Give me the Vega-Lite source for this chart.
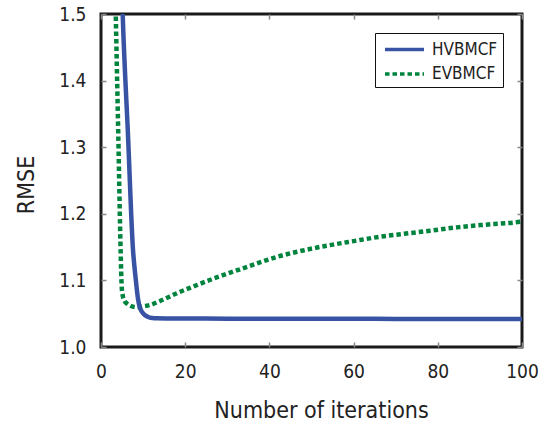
{
  "$schema": "https://vega.github.io/schema/vega-lite/v6.json",
  "width": 421,
  "height": 333,
  "autosize": {"type": "none"},
  "padding": {"left": 101, "top": 14, "right": 20, "bottom": 77},
  "background": "white",
  "config": {
    "view": {"stroke": "#1a1a1a", "strokeWidth": 3},
    "font": "DejaVu Sans Condensed, DejaVu Sans",
    "axis": {
      "labelFont": "DejaVu Sans Condensed, DejaVu Sans",
      "titleFont": "DejaVu Sans Condensed, DejaVu Sans",
      "labelFontSize": 19,
      "titleFontSize": 23,
      "titleFontWeight": "normal",
      "labelColor": "#222",
      "titleColor": "#222",
      "grid": false,
      "domain": false,
      "tickSize": -5,
      "tickColor": "#888",
      "tickWidth": 1.5,
      "labelFlush": false
    },
    "legend": {
      "orient": "none",
      "legendX": 274,
      "legendY": 19,
      "strokeColor": "#111",
      "strokeWidth": 1,
      "fillColor": "white",
      "padding": 5,
      "symbolType": "M-0.7,0L3.5,0",
      "symbolSize": 345,
      "symbolStrokeWidth": 3.5,
      "symbolFillColor": "transparent",
      "labelFont": "DejaVu Sans Condensed, DejaVu Sans",
      "labelFontSize": 17,
      "labelColor": "#222",
      "labelOffset": 29,
      "rowPadding": 4.5
    }
  },
  "data": {
    "values": [
      {"s": "HVBMCF", "x": 5.0, "y": 1.53},
      {"s": "HVBMCF", "x": 5.15, "y": 1.5},
      {"s": "HVBMCF", "x": 6.4, "y": 1.32},
      {"s": "HVBMCF", "x": 7.6, "y": 1.146},
      {"s": "HVBMCF", "x": 8.2, "y": 1.105},
      {"s": "HVBMCF", "x": 8.8, "y": 1.072},
      {"s": "HVBMCF", "x": 9.2, "y": 1.06},
      {"s": "HVBMCF", "x": 9.7, "y": 1.053},
      {"s": "HVBMCF", "x": 10.4, "y": 1.048},
      {"s": "HVBMCF", "x": 11.2, "y": 1.045},
      {"s": "HVBMCF", "x": 12.2, "y": 1.0435},
      {"s": "HVBMCF", "x": 13.3, "y": 1.043},
      {"s": "HVBMCF", "x": 16, "y": 1.0428},
      {"s": "HVBMCF", "x": 20, "y": 1.0427},
      {"s": "HVBMCF", "x": 30, "y": 1.0426},
      {"s": "HVBMCF", "x": 40, "y": 1.0425},
      {"s": "HVBMCF", "x": 50, "y": 1.0424},
      {"s": "HVBMCF", "x": 60, "y": 1.0423},
      {"s": "HVBMCF", "x": 70, "y": 1.0422},
      {"s": "HVBMCF", "x": 80, "y": 1.0421},
      {"s": "HVBMCF", "x": 90, "y": 1.042},
      {"s": "HVBMCF", "x": 100, "y": 1.042},
      {"s": "EVBMCF", "x": 3.4, "y": 1.53},
      {"s": "EVBMCF", "x": 3.5, "y": 1.5},
      {"s": "EVBMCF", "x": 4.1, "y": 1.32},
      {"s": "EVBMCF", "x": 4.68, "y": 1.14},
      {"s": "EVBMCF", "x": 4.92, "y": 1.09},
      {"s": "EVBMCF", "x": 5.2, "y": 1.076},
      {"s": "EVBMCF", "x": 5.6, "y": 1.069},
      {"s": "EVBMCF", "x": 6.1, "y": 1.0656},
      {"s": "EVBMCF", "x": 7.1, "y": 1.0616},
      {"s": "EVBMCF", "x": 8.5, "y": 1.0596},
      {"s": "EVBMCF", "x": 10, "y": 1.061},
      {"s": "EVBMCF", "x": 11.6, "y": 1.063},
      {"s": "EVBMCF", "x": 14, "y": 1.069},
      {"s": "EVBMCF", "x": 18.3, "y": 1.0815},
      {"s": "EVBMCF", "x": 22, "y": 1.091},
      {"s": "EVBMCF", "x": 26, "y": 1.101},
      {"s": "EVBMCF", "x": 30, "y": 1.11},
      {"s": "EVBMCF", "x": 35, "y": 1.121},
      {"s": "EVBMCF", "x": 42.5, "y": 1.1366},
      {"s": "EVBMCF", "x": 48, "y": 1.145},
      {"s": "EVBMCF", "x": 54.4, "y": 1.153},
      {"s": "EVBMCF", "x": 60, "y": 1.159},
      {"s": "EVBMCF", "x": 66.3, "y": 1.1656},
      {"s": "EVBMCF", "x": 72, "y": 1.17},
      {"s": "EVBMCF", "x": 78.1, "y": 1.1746},
      {"s": "EVBMCF", "x": 85, "y": 1.18},
      {"s": "EVBMCF", "x": 92, "y": 1.184},
      {"s": "EVBMCF", "x": 99.5, "y": 1.188},
      {"s": "EVBMCF", "x": 100, "y": 1.1885}
    ]
  },
  "layer": [
    {
      "transform": [{"filter": "datum.s === 'EVBMCF'"}],
      "mark": {"type": "line", "clip": true, "strokeWidth": 4.5, "strokeDash": [4.5, 3], "interpolate": "monotone"},
      "encoding": {
        "x": {"field": "x", "type": "quantitative", "scale": {"domain": [0, 100], "nice": false},
          "axis": {"orient": "bottom", "values": [0, 20, 40, 60, 80, 100], "title": "Number of iterations", "labelPadding": 20, "titleX": 220, "titleY": 70, "titleBaseline": "alphabetic", "titleAlign": "center"}},
        "y": {"field": "y", "type": "quantitative", "scale": {"domain": [1.0, 1.5], "nice": false, "zero": false},
          "axis": {"orient": "left", "values": [1.0, 1.1, 1.2, 1.3, 1.4, 1.5], "format": ".1f", "title": "RMSE", "labelPadding": 20, "titleX": -68, "titleY": 170.5, "titleBaseline": "alphabetic", "titleAlign": "center", "titleAngle": -90}},
        "color": {"field": "s", "type": "nominal", "scale": {"domain": ["HVBMCF", "EVBMCF"], "range": ["#3953a4", "#00843d"]},
          "legend": {"title": null, "encode": {"symbols": {"update": {"strokeDash": {"signal": "datum.value === 'EVBMCF' ? [4.5, 3] : [1, 0]"}}}}}}
      }
    },
    {
      "transform": [{"filter": "datum.s === 'HVBMCF'"}],
      "mark": {"type": "line", "clip": true, "strokeWidth": 4.5, "interpolate": "monotone"},
      "encoding": {
        "x": {"field": "x", "type": "quantitative", "axis": null},
        "y": {"field": "y", "type": "quantitative", "axis": null},
        "color": {"field": "s", "type": "nominal",
          "legend": {"title": null, "encode": {"symbols": {"update": {"strokeDash": {"signal": "datum.value === 'EVBMCF' ? [4.5, 3] : [1, 0]"}}}}}}
      }
    },
    {
      "mark": {"type": "line", "clip": true, "opacity": 0},
      "encoding": {
        "detail": {"field": "s", "type": "nominal"},
        "x": {"field": "x", "type": "quantitative",
          "axis": {"orient": "top", "values": [0, 20, 40, 60, 80, 100], "labels": false, "title": null}},
        "y": {"field": "y", "type": "quantitative",
          "axis": {"orient": "right", "values": [1.0, 1.1, 1.2, 1.3, 1.4, 1.5], "labels": false, "title": null}}
      }
    }
  ],
  "resolve": {"axis": {"x": "independent", "y": "independent"}}
}
